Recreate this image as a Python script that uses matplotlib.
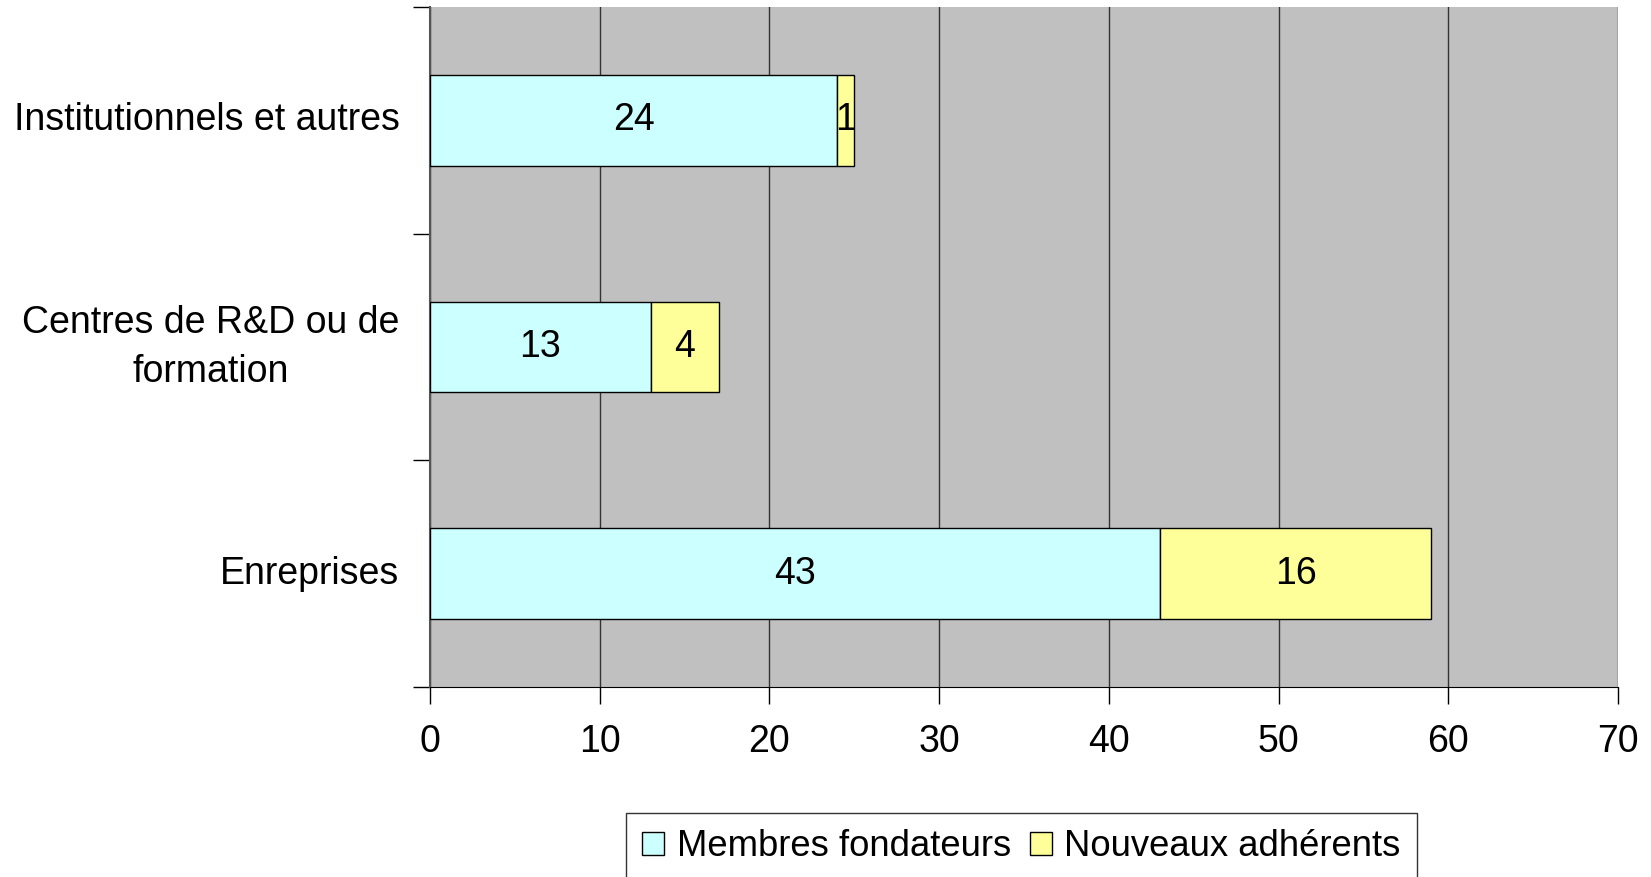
import matplotlib
matplotlib.use("Agg")
import matplotlib.pyplot as plt
from matplotlib.transforms import ScaledTranslation
import numpy as np

categories = ["Enreprises", "Centres de R&D ou de\nformation", "Institutionnels et autres"]
fondateurs = [43, 13, 24]
nouveaux = [16, 4, 1]
series_names = ["Membres fondateurs", "Nouveaux adhérents"]
x_ticks = [0, 10, 20, 30, 40, 50, 60, 70]

plt.rcParams["font.family"] = ["Liberation Sans", "DejaVu Sans"]
FS = 27

fig = plt.figure(figsize=(16.51, 8.77), dpi=100)
ax = fig.add_axes([430 / 1651, 1 - 687 / 877, (1618 - 430) / 1651, (687 - 7) / 877])
ax.set_facecolor("#C0C0C0")

y = np.arange(len(categories))
b1 = ax.barh(y, fondateurs, height=0.4, color="#CCFFFF", edgecolor="black",
             linewidth=1, label=series_names[0], zorder=3)
b2 = ax.barh(y, nouveaux, left=fondateurs, height=0.4, color="#FFFF99",
             edgecolor="black", linewidth=1, label=series_names[1], zorder=3)
for i in range(len(categories)):
    ax.text(fondateurs[i] / 2, y[i], str(fondateurs[i]), ha="center",
            va="center", fontsize=FS, zorder=4)
    ax.text(fondateurs[i] + nouveaux[i] / 2, y[i], str(nouveaux[i]),
            ha="center", va="center", fontsize=FS, zorder=4)

ax.set_xlim(0, 70)
ax.set_ylim(-0.5, 2.5)
ax.set_xticks(x_ticks)
ax.set_xticklabels([str(t) for t in x_ticks], fontsize=FS)
ax.set_yticks([-0.5, 0.5, 1.5, 2.5], minor=False)
ax.set_yticklabels([])
ax.set_yticks(y, minor=True)
ax.set_yticklabels(categories, minor=True, fontsize=FS, multialignment="center",
                   linespacing=1.45)
ax.tick_params(axis="y", which="minor", length=0, pad=22)
ax.tick_params(axis="y", which="major", length=12, width=1)
ax.tick_params(axis="x", length=12, width=1, pad=15)
ax.grid(axis="x", color="#333333", linewidth=1, zorder=1)
ax.set_axisbelow(True)
for s in ["top", "right"]:
    ax.spines[s].set_visible(False)
ax.spines["left"].set_color("#555555")
ax.spines["left"].set_linewidth(1.5)

# nudge category labels up a little
for lab in ax.get_yticklabels(minor=True):
    dy = 10 if "\n" in lab.get_text() else 4
    lab.set_transform(lab.get_transform() + ScaledTranslation(0, dy / 100, fig.dpi_scale_trans))

leg = fig.legend(handles=[b1, b2], loc="upper left", ncol=2,
                 bbox_to_anchor=(626 / 1651, 1 - 813 / 877), fontsize=26.3,
                 frameon=True, fancybox=False, edgecolor="black",
                 handlelength=0.6, handleheight=0.6, handletextpad=0.35,
                 columnspacing=0.5, borderpad=0.45, borderaxespad=0)
leg.get_frame().set_linewidth(1)

fig.savefig("out.png", dpi=100)
